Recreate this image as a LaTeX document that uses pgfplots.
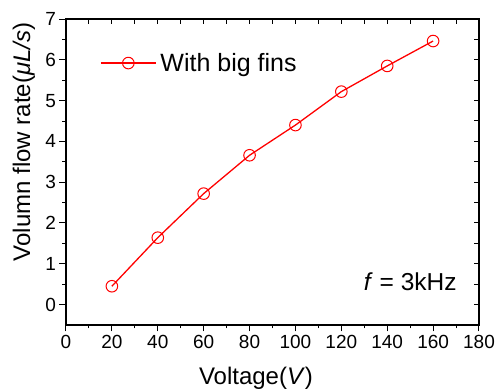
\documentclass[border=0pt]{standalone}
\usepackage{pgfplots}
\pgfplotsset{compat=1.18}
\usepackage{fontspec}
\setmainfont{Liberation Sans}
\begin{document}
\begin{tikzpicture}
\useasboundingbox (-66pt,-65pt) rectangle (430pt,325pt);
\begin{axis}[
  at={(0pt,0pt)}, anchor=south west,
  scale only axis, width=413pt, height=306pt,
  xmin=0, xmax=180, ymin=-0.5, ymax=7,
  xtick={0,20,...,180}, minor x tick num=1,
  ytick={0,1,...,7}, minor y tick num=1,
  tick align=outside, xtick pos=bottom, ytick pos=left,
  major tick length=6.5pt, minor tick length=3.5pt,
  every tick/.style={black, line width=1pt},
  axis line style={line width=1.2pt},
  ticklabel style={font=\fontsize{19}{19}\selectfont},
  /pgf/number format/assume math mode=true,
  xlabel={Voltage(\textit{V})},
  ylabel={Volumn flow rate(\textit{μL/s})},
  xlabel style={font=\fontsize{24}{24}\selectfont, at={(axis description cs:0.46,0)}, anchor=center, yshift=-53pt},
  ylabel style={font=\fontsize{24}{24}\selectfont, at={(axis description cs:0,0.598)}, anchor=center, yshift=42pt},
  legend style={draw=none, fill=none, inner sep=0pt, anchor=west,
    at={(axis description cs:0.0823,0.856)},
    font=\fontsize{25}{25}\selectfont},
  legend cell align=left,
  legend image code/.code={\draw[mark repeat=2,mark phase=2] plot coordinates {(0pt,0pt) (27.5pt,0pt) (55pt,0pt)};},
]
\addplot[red, line width=1.3pt, mark=o, mark size=5.8pt, mark options={fill=white, line width=1pt}]
coordinates {(20,0.45) (40,1.64) (60,2.72) (80,3.66) (100,4.40) (120,5.22) (140,5.85) (160,6.46)};
\addlegendentry{\hspace{2pt}With big fins}
\node[anchor=base east, font=\fontsize{24.5}{24.5}\selectfont] at (axis cs:171.8,0.35) {\textit{f} = 3kHz};
\end{axis}
\begin{axis}[
  at={(0pt,0pt)}, anchor=south west,
  scale only axis, width=413pt, height=306pt,
  xmin=0, xmax=180, ymin=-0.5, ymax=7,
  xtick={0,20,...,180}, minor x tick num=1,
  ytick={0,1,...,7}, minor y tick num=1,
  tick align=inside, xtick pos=top, ytick pos=right,
  major tick length=5pt, minor tick length=5pt,
  every tick/.style={black, line width=1pt},
  axis line style={draw=none},
  xticklabels={}, yticklabels={},
]
\end{axis}
\end{tikzpicture}
\end{document}
